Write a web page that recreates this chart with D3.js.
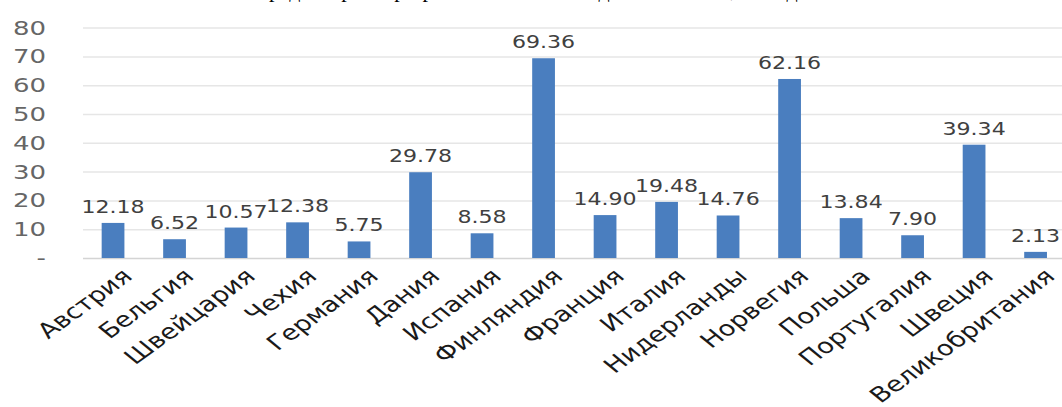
<!DOCTYPE html>
<html lang="ru">
<head>
<meta charset="UTF-8">
<title>Chart</title>
<script src="https://d3js.org/d3.v7.min.js"></script>
<style>
    body { margin: 0; background: #fff; }
    svg { display: block; }
</style>
</head>
<body>
<div id="chart"></div>
<script>
// data
const countries = ["Австрия", "Бельгия", "Швейцария", "Чехия", "Германия", "Дания", "Испания",
    "Финляндия", "Франция", "Италия", "Нидерланды", "Норвегия", "Польша", "Португалия",
    "Швеция", "Великобритания"];
const values = [12.18, 6.52, 10.57, 12.38, 5.75, 29.78, 8.58, 69.36, 14.90, 19.48, 14.76,
    62.16, 13.84, 7.90, 39.34, 2.13];
const yTicks = [0, 10, 20, 30, 40, 50, 60, 70, 80];
const titleText = "Средний размер прямых выплат на одно хозяйство, тыс. долл.";

const totalW = 1062, totalH = 407;
const sx = 1.3; // the original picture is stretched sideways
const innerW = totalW / sx;

const svg = d3.select("#chart").append("svg")
    .attr("width", totalW)
    .attr("height", totalH);

// title, cut off at the top in the original as well
svg.append("text")
    .attr("x", 545)
    .attr("y", -3)
    .attr("text-anchor", "middle")
    .style("font-family", "'Liberation Serif', serif")
    .style("font-size", "22px")
    .attr("fill", "#000")
    .text(titleText);

const g = svg.append("g").attr("transform", `scale(${sx},1)`);

const x = d3.scaleBand()
    .domain(countries)
    .range([63.3, 63.3 + 16 * 47.31])
    .paddingInner(0.63)
    .paddingOuter(0.315);

const y = d3.scaleLinear()
    .domain([0, 80])
    .range([258, 27.6]);

// gridlines + y labels
const yAxis = g.append("g")
    .attr("transform", `translate(${83 / sx},0)`)
    .call(d3.axisLeft(y)
        .tickValues(yTicks)
        .tickSize(-(innerW - 83 / sx))
        .tickPadding(37 / sx)
        .tickFormat(d => d === 0 ? "-" : d));
yAxis.select(".domain").remove();
yAxis.selectAll("line")
    .attr("stroke", d => d === 0 ? "#d4d4d4" : "#e6e6e6")
    .attr("stroke-width", 1.5);
yAxis.selectAll("text")
    .attr("fill", "#666")
    .style("font-family", "'DejaVu Sans', sans-serif")
    .style("font-size", "20px");

// bars
g.selectAll(".bar")
    .data(values)
    .join("rect")
    .attr("class", "bar")
    .attr("x", (d, i) => x(countries[i]))
    .attr("y", d => y(d))
    .attr("width", x.bandwidth())
    .attr("height", d => y(0) - y(d))
    .attr("fill", "#4a7ebf");

// value labels
g.selectAll(".val")
    .data(values)
    .join("text")
    .attr("class", "val")
    .attr("x", (d, i) => x(countries[i]) + x.bandwidth() / 2)
    .attr("y", d => y(d) - 10)
    .attr("text-anchor", "middle")
    .attr("fill", "#404040")
    .style("font-family", "'DejaVu Sans', sans-serif")
    .style("font-size", "17px")
    .text(d => d.toFixed(2));

// category labels
const xAxis = g.append("g")
    .attr("transform", `translate(0,${y(0)})`)
    .call(d3.axisBottom(x).tickSize(0).tickPadding(0));
xAxis.select(".domain").remove();
xAxis.selectAll("text")
    .attr("text-anchor", "end")
    .attr("dy", 0)
    .attr("transform", "translate(16,20) rotate(-43)")
    .attr("fill", "#1a1a1a")
    .style("font-family", "'DejaVu Sans', sans-serif")
    .style("font-size", "21px");
</script>
</body>
</html>
